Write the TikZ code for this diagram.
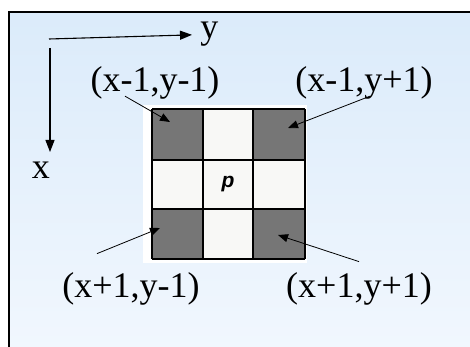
\documentclass[tikz,border=0pt]{standalone}
\usepackage{fontspec}
\setmainfont{Liberation Serif}
\setsansfont{Liberation Sans}
\usepackage{tikz}
\usetikzlibrary{arrows.meta,positioning,calc}
\definecolor{paleblue}{RGB}{219,235,250}
\definecolor{paleend}{RGB}{241,247,254}
\definecolor{cellgray}{RGB}{118,118,118}
\definecolor{cellwhite}{RGB}{248,248,246}
\tikzset{
  coordlabel/.style={font=\fontsize{18}{20}\selectfont,inner sep=0pt,anchor=base},
  axis/.style={line width=.55pt,-{Triangle[length=6pt,width=4.5pt]}},
  leader/.style={line width=.4pt,-{Triangle[length=5pt,width=4pt]}},
}

\begin{document}
\begin{tikzpicture}[x=.5pt,y=-.5pt]
\useasboundingbox (0,0) rectangle (470,347);
% slide background and frame
\fill[top color=paleblue,bottom color=paleend] (9,12) rectangle (472,349);
\draw[line width=1.1pt] (9,349)--(9,12)--(472,12);
% axes
\coordinate (o) at (49,39);
\coordinate (xend) at (50,152);
\node[coordlabel,anchor=base west] (ylab) at (200,39){y};
\node[coordlabel] (xlab) at (41,178){x};
\draw[axis,shorten >=4pt] (o)--(ylab.west);
\draw[axis] (50,48)--(xend);
% 3x3 neighbourhood
\fill[white] (143,105) rectangle (307,263);
\fill[cellwhite] (152,109) rectangle (305,259);
\foreach \cx/\cy in {152/109,253/109,152/209,253/209}
  \fill[cellgray] (\cx,\cy) rectangle ++(52,50);
\foreach \gx in {152,203,253,305}\draw[line width=.9pt] (\gx,109)--(\gx,259);
\foreach \gy in {109,160,209,259}\draw[line width=.9pt] (152,\gy)--(305,\gy);
\node[font=\sffamily\bfseries\itshape\fontsize{10.5}{12}\selectfont] (p) at (228,184){p};
% labels
\node[coordlabel] (nw) at (155,92){(x-1,y-1)};
\node[coordlabel] (ne) at (364,92){(x-1,y+1)};
\node[coordlabel] (sw) at (131,297){(x+1,y-1)};
\node[coordlabel] (se) at (359,297){(x+1,y+1)};
\coordinate (tnw) at (170,122);
\coordinate (tne) at (288,128);
\coordinate (tsw) at (160,228);
\coordinate (tse) at (278,235);
\draw[leader] ([xshift=-15pt,yshift=2pt]nw.south)--(tnw);
\draw[leader] ([xshift=3pt,yshift=2pt]ne.south)--(tne);
\draw[leader] ([xshift=-17pt,yshift=9pt]sw.north)--(tsw);
\draw[leader] ([yshift=5pt]se.north)--(tse);
\end{tikzpicture}
\end{document}
